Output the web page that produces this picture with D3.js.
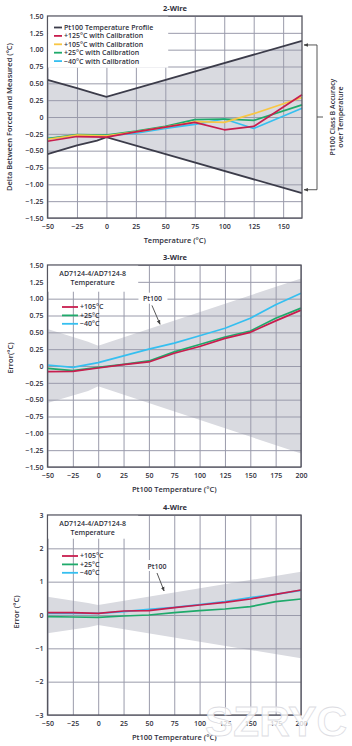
<!DOCTYPE html>
<html>
<head>
<meta charset="utf-8">
<script src="https://cdn.jsdelivr.net/npm/d3@7"></script>
<style>
  body { margin: 0; background: #fff; }
  text { font-family: "Open Sans", sans-serif; }
</style>
</head>
<body>
<div id="chart"></div>
<script>
// ---- 2-wire ----
const temps2w = [-50, -25, 0, 25, 50, 75, 100, 125, 166];
const cal125 = [-0.36, -0.29, -0.30, -0.22, -0.15, -0.08, -0.19, -0.14, 0.33];
const cal105 = [-0.33, -0.27, -0.28, -0.22, -0.15, -0.07, -0.08, 0.05, 0.29];
const cal25  = [-0.32, -0.26, -0.27, -0.21, -0.14, -0.04, -0.03, -0.05, 0.18];
const calM40 = [-0.32, -0.28, -0.28, -0.24, -0.17, -0.11, -0.03, -0.17, 0.13];
const profileT  = [-50, -25, -8, 0, 166];
const profileUp = [0.55, 0.43, 0.34, 0.30, 1.13];
const profileLo = [-0.55, -0.42, -0.35, -0.30, -1.13];

// ---- 3-wire / 4-wire ----
const temps = [-50, -25, 0, 25, 50, 75, 100, 125, 150, 175, 200];
const w3_105 = [-0.085, -0.08, -0.03, 0.02, 0.06, 0.19, 0.29, 0.41, 0.50, 0.67, 0.83];
const w3_25  = [-0.035, -0.07, -0.02, 0.025, 0.075, 0.21, 0.32, 0.43, 0.52, 0.71, 0.86];
const w3_m40 = [0.015, -0.02, 0.05, 0.15, 0.25, 0.34, 0.45, 0.56, 0.71, 0.91, 1.08];
const w4_105 = [0.07, 0.07, 0.05, 0.12, 0.13, 0.22, 0.30, 0.38, 0.48, 0.62, 0.75];
const w4_25  = [-0.05, -0.06, -0.07, -0.03, 0.00, 0.07, 0.13, 0.18, 0.25, 0.40, 0.48];
const w4_m40 = [0.05, 0.05, 0.05, 0.10, 0.17, 0.23, 0.31, 0.40, 0.52, 0.62, 0.74];
const bandT  = [-50, -10, 0, 200];
const bandUp = [0.55, 0.36, 0.30, 1.30];
const bandLo = [-0.55, -0.37, -0.30, -1.30];

// ---- ticks ----
const xTicks2w = [-50, -25, 0, 25, 50, 75, 100, 125, 150];
const xTicks = [-50, -25, 0, 25, 50, 75, 100, 125, 150, 175, 200];
const yTicksQ = [-1.5, -1.25, -1, -0.75, -0.5, -0.25, 0, 0.25, 0.5, 0.75, 1, 1.25, 1.5];
const yTicks4 = [-3, -2, -1, 0, 1, 2, 3];

const C = { red: "#c81d4e", yellow: "#f8c644", green: "#1faa6b", cyan: "#35bff0", dark: "#3c3c4a" };
const TXT = "#2f2f3b", GRID = "#9a9bab", FILL = "#d9dae0";

const svg = d3.select("#chart").append("svg")
  .attr("width", 352).attr("height", 746);

svg.append("defs").append("marker")
  .attr("id", "arr").attr("viewBox", "0 0 10 10")
  .attr("refX", 9).attr("refY", 5)
  .attr("markerWidth", 5).attr("markerHeight", 5)
  .attr("orient", "auto-start-reverse")
  .append("path").attr("d", "M0,1 L10,5 L0,9 Z").attr("fill", "#444");

const minus = s => s.replace("-", "\u2212");
const fmtQ = d => d === 0 ? "0" : minus(d3.format(".2f")(d));
const fmtI = d => minus(String(d));

function panel(p) {
  const x = d3.scaleLinear().domain(p.xDomain).range([47.5, p.right]);
  const y = d3.scaleLinear().domain(p.yDomain).range([p.bottom, p.top]);
  const g = svg.append("g");

  // shaded class B band
  g.append("path")
    .datum(p.bandT.map((t, i) => ({ t, up: p.bandUp[i], lo: p.bandLo[i] })))
    .attr("fill", FILL)
    .attr("d", d3.area().x(d => x(d.t)).y0(d => y(d.lo)).y1(d => y(d.up)));

  // axes with grid
  const ya = g.append("g").attr("transform", "translate(47.5,0)")
    .call(d3.axisLeft(y).tickValues(p.yTicks).tickFormat(p.yFmt)
      .tickSize(-(p.right - 47.5)).tickPadding(4));
  const xa = g.append("g").attr("transform", `translate(0,${p.bottom})`)
    .call(d3.axisBottom(x).tickValues(p.xTicks).tickFormat(fmtI)
      .tickSize(-(p.bottom - p.top)).tickPadding(6));
  [ya, xa].forEach(a => {
    a.select(".domain").remove();
    a.selectAll(".tick line").attr("stroke", GRID).attr("stroke-width", 1);
    a.selectAll(".tick text").attr("fill", TXT).style("font-size", "7px").style("font-weight", 600);
  });

  // profile lines (2-wire only)
  if (p.profile) {
    [profileUp, profileLo].forEach(arr => {
      g.append("path")
        .datum(profileT.map((t, i) => [t, arr[i]]))
        .attr("fill", "none").attr("stroke", C.dark).attr("stroke-width", 1.8)
        .attr("d", d3.line().x(d => x(d[0])).y(d => y(d[1])));
    });
  }

  // series
  p.series.forEach(s => {
    g.append("path")
      .datum(p.xs.map((t, i) => [t, s.v[i]]))
      .attr("fill", "none").attr("stroke", s.color).attr("stroke-width", 1.7)
      .attr("stroke-linejoin", "round")
      .attr("d", d3.line().x(d => x(d[0])).y(d => y(d[1])));
  });

  // frame
  g.append("rect")
    .attr("x", 47.5).attr("y", p.top)
    .attr("width", p.right - 47.5).attr("height", p.bottom - p.top)
    .attr("fill", "none").attr("stroke", "#55555f").attr("stroke-width", 1.3);

  // title and axis labels
  g.append("text").attr("x", 175).attr("y", p.top - 5)
    .attr("text-anchor", "middle").attr("fill", TXT)
    .style("font-size", "7.5px").style("font-weight", 700).text(p.title);
  g.append("text").attr("x", (47.5 + p.right) / 2).attr("y", p.bottom + 25)
    .attr("text-anchor", "middle").attr("fill", TXT)
    .style("font-size", "7.5px").style("font-weight", 600).text(p.xTitle);
  g.append("text")
    .attr("transform", `translate(${p.yTitleX},${p.yTitleY}) rotate(-90)`)
    .attr("text-anchor", "middle").attr("fill", TXT)
    .style("font-size", "7.5px").style("font-weight", 600).text(p.yTitle);

  return { g, x, y };
}

function legend(g, x0, y0, rows) {
  rows.forEach((r, i) => {
    const yy = y0 + i * 8.4;
    g.append("line").attr("x1", x0).attr("x2", x0 + r.w).attr("y1", yy).attr("y2", yy)
      .attr("stroke", r.color).attr("stroke-width", 1.8);
    g.append("text").attr("x", x0 + r.w + 2).attr("y", yy + 2.4)
      .attr("fill", TXT).style("font-size", "7px").style("font-weight", 600).text(r.label);
  });
}

function chipBox(g, x0, y0, w, h, lines) {
  g.append("rect").attr("x", x0).attr("y", y0).attr("width", w).attr("height", h).attr("fill", "#fff");
  lines.forEach((l, i) => {
    g.append("text").attr("x", x0 + 44.5).attr("y", y0 + 10 + i * 9)
      .attr("text-anchor", "middle").attr("fill", TXT)
      .style("font-size", "7px").style("font-weight", 600).text(l);
  });
}

function pt100(g, x, y, lab, from, to) {
  g.append("rect").attr("x", x(lab[0]) - 14).attr("y", y(lab[1]) - 6)
    .attr("width", 29).attr("height", 11).attr("fill", "#fff");
  g.append("text").attr("x", x(lab[0])).attr("y", y(lab[1]) + 2.5)
    .attr("text-anchor", "middle").attr("fill", TXT)
    .style("font-size", "7px").style("font-weight", 600).text("Pt100");
  g.append("line").attr("x1", x(from[0])).attr("y1", y(from[1]))
    .attr("x2", x(to[0])).attr("y2", y(to[1]))
    .attr("stroke", "#444").attr("stroke-width", 0.9).attr("marker-end", "url(#arr)");
}

// ---- panel 1: 2-wire ----
const p1 = panel({
  title: "2-Wire", xTitle: "Temperature (°C)", yTitle: "Delta Between Forced and Measured (°C)",
  yTitleX: 12, yTitleY: 117,
  xDomain: [-50, 166], yDomain: [-1.5, 1.5], right: 302, top: 16, bottom: 218,
  xTicks: xTicks2w, yTicks: yTicksQ, yFmt: fmtQ,
  bandT: profileT, bandUp: profileUp, bandLo: profileLo, profile: true,
  xs: temps2w,
  series: [
    { v: calM40, color: C.cyan }, { v: cal25, color: C.green },
    { v: cal105, color: C.yellow }, { v: cal125, color: C.red }
  ]
});
p1.g.append("rect").attr("x", 48.2).attr("y", 16.7).attr("width", 120).attr("height", 51).attr("fill", "#fff");
legend(p1.g, 54, 27.5, [
  { color: C.dark, label: "Pt100 Temperature Profile", w: 8 },
  { color: C.red, label: "+125°C with Calibration", w: 8 },
  { color: C.yellow, label: "+105°C with Calibration", w: 8 },
  { color: C.green, label: "+25°C with Calibration", w: 8 },
  { color: C.cyan, label: "\u221240°C with Calibration", w: 8 }
]);
// class B bracket
{
  const yTop = p1.y(1.07), yBot = p1.y(-1.08), yMid = p1.y(0);
  p1.g.append("path").attr("d", `M317,${yTop} H304`).attr("fill", "none")
    .attr("stroke", "#444").attr("stroke-width", 0.9).attr("marker-end", "url(#arr)");
  p1.g.append("path").attr("d", `M317,${yBot} H304`).attr("fill", "none")
    .attr("stroke", "#444").attr("stroke-width", 0.9).attr("marker-end", "url(#arr)");
  p1.g.append("path").attr("d", `M317,${yTop} V${yBot} M317,${yMid} H323`).attr("fill", "none")
    .attr("stroke", "#444").attr("stroke-width", 0.9);
  ["Pt100 Class B Accuracy", "over Temperature"].forEach((t, i) => {
    p1.g.append("text").attr("transform", `translate(${335 + i * 8},${yMid}) rotate(-90)`)
      .attr("text-anchor", "middle").attr("fill", TXT)
      .style("font-size", "7px").style("font-weight", 600).text(t);
  });
}

// ---- panel 2: 3-wire ----
const p2 = panel({
  title: "3-Wire", xTitle: "Pt100 Temperature (°C)", yTitle: "Error(°C)",
  yTitleX: 13, yTitleY: 358,
  xDomain: [-50, 200], yDomain: [-1.5, 1.5], right: 301, top: 265, bottom: 467,
  xTicks: xTicks, yTicks: yTicksQ, yFmt: fmtQ,
  bandT, bandUp, bandLo, xs: temps,
  series: [{ v: w3_m40, color: C.cyan }, { v: w3_25, color: C.green }, { v: w3_105, color: C.red }]
});
chipBox(p2.g, 48.2, 265.7, 90, 26, ["AD7124-4/AD7124-8", "Temperature"]);
legend(p2.g, 62, 307, [
  { color: C.red, label: "+105°C", w: 16 },
  { color: C.green, label: "+25°C", w: 16 },
  { color: C.cyan, label: "\u221240°C", w: 16 }
]);
pt100(p2.g, p2.x, p2.y, [53.5, 1.0], [53, 0.9], [61, 0.62]);

// ---- panel 3: 4-wire ----
const p3 = panel({
  title: "4-Wire", xTitle: "Pt100 Temperature (°C)", yTitle: "Error (°C)",
  yTitleX: 19, yTitleY: 612,
  xDomain: [-50, 200], yDomain: [-3, 3], right: 301, top: 515, bottom: 715,
  xTicks: xTicks, yTicks: yTicks4, yFmt: fmtI,
  bandT, bandUp, bandLo, xs: temps,
  series: [{ v: w4_m40, color: C.cyan }, { v: w4_25, color: C.green }, { v: w4_105, color: C.red }]
});
chipBox(p3.g, 48.2, 515.7, 90, 23, ["AD7124-4/AD7124-8", "Temperature"]);
legend(p3.g, 62, 556, [
  { color: C.red, label: "+105°C", w: 16 },
  { color: C.green, label: "+25°C", w: 16 },
  { color: C.cyan, label: "\u221240°C", w: 16 }
]);
pt100(p3.g, p3.x, p3.y, [58, 1.47], [58, 1.26], [65, 0.72]);

// watermark (faint, as in the source image)
svg.append("text").attr("x", 205).attr("y", 736)
  .attr("textLength", 142).attr("lengthAdjust", "spacingAndGlyphs")
  .style("font-family", "'Liberation Sans', sans-serif").style("font-size", "42px").style("font-weight", 700)
  .attr("fill", "#fff").attr("fill-opacity", 0.8).attr("stroke", "#dcdce2").attr("stroke-width", 0.8)
  .text("SZRYC");
</script>
</body>
</html>
